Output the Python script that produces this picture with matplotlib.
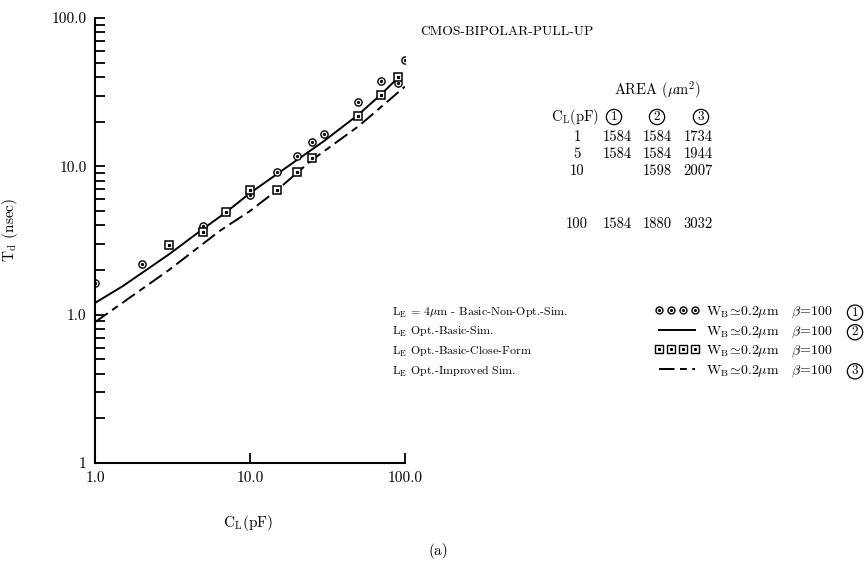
import matplotlib
matplotlib.use('Agg')
import matplotlib.pyplot as plt
from matplotlib.lines import Line2D
from matplotlib.ticker import LogLocator, NullLocator, NullFormatter

plt.rcParams['font.family'] = ['cmr10', 'DejaVu Sans']
plt.rcParams['mathtext.fontset'] = 'cm'
plt.rcParams['axes.formatter.use_mathtext'] = True

cl_circ = [1, 2, 5, 10, 15, 20, 25, 30, 50, 70, 90, 100]
td_circ = [1.64, 2.2, 3.97, 6.4, 9.2, 11.7, 14.6, 16.6, 27, 37.4, 36.5, 52]
cl_sq = [3, 5, 7, 10, 15, 20, 25, 50, 70, 90]
td_sq = [2.93, 3.62, 4.94, 6.9, 6.93, 9.2, 11.3, 21.8, 30.1, 40]
cl_sim = [1, 1.5, 3, 5, 7, 10, 20, 30, 50, 70, 90]
td_sim = [1.2, 1.55, 2.55, 3.8, 4.9, 6.6, 11.0, 14.8, 22.3, 30.5, 39.5]
cl_impr = [1, 3, 6.4, 10, 15, 20, 25, 50, 100]
td_impr = [0.89, 2.0, 3.68, 5.0, 6.93, 9.0, 11.0, 18.6, 34.5]

# area table
area_cl = ['1', '5', '10', '100']
area_1 = ['1584', '1584', '', '1584']
area_2 = ['1584', '1584', '1598', '1880']
area_3 = ['1734', '1944', '2007', '3032']

leg_left = [r'L$_{\rm E}$ = 4$\mu$m - Basic-Non-Opt.-Sim.',
            r'L$_{\rm E}$ Opt.-Basic-Sim.',
            r'L$_{\rm E}$ Opt.-Basic-Close-Form',
            r'L$_{\rm E}$ Opt.-Improved Sim.']
leg_right = [r'W$_{\rm B}\!\simeq\!$0.2$\mu$m   $\beta$=100'] * 4
leg_num = ['1', '2', '', '3']

W, H = 868, 562
fig = plt.figure(figsize=(W / 100, H / 100), dpi=100)
ax = fig.add_axes([95 / W, 1 - 463 / H, (405 - 95) / W, (463 - 18) / H])

dash = (8, 2.8, 3.5, 2.8)
ax.plot(cl_sim, td_sim, color='k', lw=1.4)
ax.plot(cl_impr, td_impr, color='k', lw=1.4, dashes=dash)
ax.plot(cl_circ, td_circ, ls='none', marker='o', ms=5.2, mfc='white', mec='k', mew=1.0)
ax.plot(cl_circ, td_circ, ls='none', marker='o', ms=1.3, color='k')
ax.plot(cl_sq, td_sq, ls='none', marker='s', ms=5.6, mfc='white', mec='k', mew=1.1)
ax.plot(cl_sq, td_sq, ls='none', marker='s', ms=1.3, color='k')

ax.set_xscale('log')
ax.set_yscale('log')
ax.set_xlim(1, 100)
ax.set_ylim(0.1, 100)
ax.spines[['top', 'right']].set_visible(False)
ax.spines[['left', 'bottom']].set_linewidth(1.5)
ax.set_xticks([1, 10, 100])
ax.set_xticklabels(['1.0', '10.0', '100.0'], fontsize=11)
ax.xaxis.set_minor_locator(NullLocator())
ax.set_yticks([0.1, 1, 10, 100])
ax.set_yticklabels(['1', '1.0', '10.0', '100.0'], fontsize=11)
ax.yaxis.set_minor_locator(LogLocator(base=10, subs=range(2, 10)))
ax.yaxis.set_minor_formatter(NullFormatter())
ax.tick_params(which='both', direction='in', width=1.3, length=7, pad=6)

ax.set_xlabel(r'C$_{\rm L}$(pF)', fontsize=11)
ax.xaxis.set_label_coords((248 - 95) / 310, (463 - 513) / 445)
ax.set_ylabel(r'T$_{\rm d}$ (nsec)', fontsize=11)
ax.yaxis.set_label_coords((20 - 95) / 310, (463 - 230) / 445)

fig.text(438 / W, 1 - 551 / H, '(a)', ha='center', va='center', fontsize=11)
fig.text(420 / W, 1 - 32 / H, 'CMOS-BIPOLAR-PULL-UP', ha='left', va='center', fontsize=9.8)

# area table
fig.text(657 / W, 1 - 90 / H, r'AREA ($\mu$m$^2$)', ha='center', va='center', fontsize=10.5)
fig.text(551 / W, 1 - 117 / H, r'C$_{\rm L}$(pF)', ha='left', va='center', fontsize=10.5)
circ = dict(boxstyle='circle,pad=0.12', fc='none', ec='k', lw=0.9)
for xc, n in zip([614, 657, 701], ['1', '2', '3']):
    fig.text(xc / W, 1 - 117 / H, n, ha='center', va='center', fontsize=9.5, bbox=circ)
row_y = [137, 154, 171, 224]
for i, yr in enumerate(row_y):
    for xc, col in zip([577, 617, 657, 698], [area_cl, area_1, area_2, area_3]):
        fig.text(xc / W, 1 - yr / H, col[i], ha='center', va='center', fontsize=10.5)

# legend
h_circ = (Line2D([], [], ls='none', marker='o', ms=5, mfc='white', mec='k', mew=1.0),
          Line2D([], [], ls='none', marker='o', ms=1.2, color='k'))
h_sim = Line2D([], [], color='k', lw=1.4)
h_sq = (Line2D([], [], ls='none', marker='s', ms=5.2, mfc='white', mec='k', mew=1.0),
        Line2D([], [], ls='none', marker='s', ms=1.2, color='k'))
h_impr = Line2D([], [], color='k', lw=1.4, dashes=dash)
leg = fig.legend([h_circ, h_sim, h_sq, h_impr], leg_right, loc='upper left',
                 bbox_to_anchor=(655 / W, 1 - 305 / H), frameon=False, numpoints=4,
                 handlelength=3.2, handletextpad=0.45, labelspacing=0.3,
                 borderpad=0, borderaxespad=0, fontsize=10)

fig.canvas.draw()
for t, s, n in zip(leg.get_texts(), leg_left, leg_num):
    bb = t.get_window_extent()
    yc = (bb.y0 + bb.y1) / 2 / fig.bbox.height
    fig.text(392 / W, yc, s, ha='left', va='center', fontsize=8.6)
    if n:
        fig.text(855 / W, yc, n, ha='center', va='center', fontsize=9.5, bbox=circ)

fig.savefig('out.png', dpi=100)
